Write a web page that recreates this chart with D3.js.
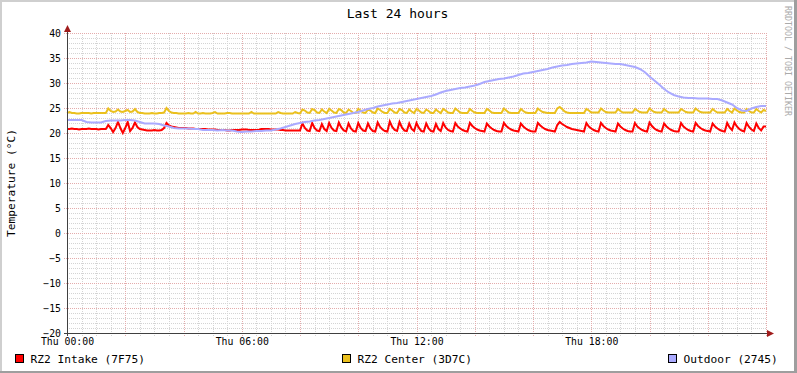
<!DOCTYPE html>
<html>
<head>
<meta charset="utf-8">
<script src="https://cdn.jsdelivr.net/npm/d3@7"></script>
<style>
  html, body { margin: 0; padding: 0; background: #fff; }
  svg { display: block; font-family: "DejaVu Sans Mono", monospace; }
</style>
</head>
<body>
<div id="chart"></div>
<script>
// data - intake + center log every 5 min (Thu 00:00 .. Fri 00:00), outdoor every 10 min
const intakeTemps = [
  20.8, 20.8, 20.9, 20.8, 20.8, 20.7, 20.8, 20.8, 20.8, 20.9, 20.8, 20.8, 20.8, 20.7, 20.8, 20.8, 20.8,
  21.6, 21.0, 20.2, 21.0, 22.2, 21.0, 20.0, 21.0, 22.2, 20.4, 21.0, 22.1, 21.2, 20.8,
  20.7, 20.6, 20.5, 20.5, 20.5, 20.6, 20.5, 20.5, 20.6,
  21.0, 22.0, 21.5, 21.3, 21.2, 21.1, 21.0, 21.0, 21.0, 21.0, 20.9, 20.9, 20.9, 20.8, 20.8, 20.8, 20.8, 20.8, 20.7, 20.7,
  20.7, 20.7, 20.6, 20.6, 20.6, 20.6, 20.5, 20.5, 20.6, 20.6, 20.6, 20.6, 20.7, 20.7, 20.7, 20.6, 20.6, 20.6, 20.6, 20.6,
  20.8, 20.8, 20.8, 20.8, 20.7, 20.7, 20.7, 20.7,
  20.6, 20.6, 20.5, 20.5, 20.5, 20.5, 20.5, 20.5, 20.5,
  21.9, 21.0, 20.5, 20.4,
  22.0, 21.0, 20.5, 20.4,
  21.8, 20.8, 20.4,
  22.0, 21.0, 20.5, 20.4,
  22.1, 21.1, 20.5, 20.3,
  21.9, 20.9, 20.4, 20.3,
  22.0, 21.0, 20.5, 20.4,
  21.9, 20.9, 20.4, 20.3,
  22.1, 21.2, 20.7, 20.4, 20.3,
  22.3, 21.2, 20.6, 20.4,
  22.2, 21.1, 20.5, 20.4,
  21.9, 20.8, 20.4,
  22.0, 21.0, 20.4, 20.3,
  21.9, 20.9, 20.4, 20.3,
  21.8, 20.8, 20.4,
  22.0, 21.1, 20.6, 20.4, 20.3,
  22.0, 21.3, 20.9, 20.6, 20.4, 20.3,
  22.0, 21.4, 21.0, 20.7, 20.5, 20.4, 20.3,
  21.9, 21.3, 20.9, 20.6, 20.4, 20.3, 20.3,
  22.0, 21.4, 21.0, 20.7, 20.5, 20.4, 20.3,
  21.9, 21.3, 20.9, 20.6, 20.4, 20.3, 20.3,
  22.0, 21.5, 21.1, 20.8, 20.6, 20.5, 20.4, 20.3,
  21.6, 22.2, 21.8, 21.5, 21.2, 21.0, 20.8, 20.7, 20.6, 20.5, 20.4, 20.3,
  22.0, 21.3, 20.9, 20.6, 20.4, 20.3,
  22.0, 21.4, 21.0, 20.7, 20.5, 20.4, 20.3,
  21.9, 21.3, 20.9, 20.6, 20.4, 20.3, 20.3,
  22.0, 21.3, 20.9, 20.6, 20.4, 20.3,
  22.1, 21.4, 20.9, 20.6, 20.4, 20.3,
  21.9, 21.3, 20.9, 20.6, 20.4, 20.3, 20.3,
  22.0, 21.3, 20.9, 20.6, 20.4, 20.3,
  22.0, 21.4, 21.0, 20.7, 20.5, 20.4, 20.3,
  21.9, 21.3, 20.9, 20.6, 20.4, 20.3,
  22.0, 21.1, 20.6,
  22.1, 21.3, 20.8, 20.5, 20.3,
  22.0, 21.2, 20.7, 20.4,
  21.9, 21.0, 20.5,
  21.3, 21.3
];

const centerTemps = [
  24.0, 24.2, 24.0, 24.0, 23.9, 23.9, 24.0, 24.0, 24.0, 24.0, 23.9, 24.0, 24.0, 24.0, 24.0, 24.0, 24.0,
  24.9, 24.4, 24.2, 24.3, 24.7, 24.3, 24.2, 24.4, 24.6, 24.2, 24.3, 24.8, 24.2, 24.0,
  24.0, 23.9, 23.9, 23.9, 24.0, 23.9, 23.9, 24.0, 24.0,
  24.1, 25.0, 24.4, 24.1, 24.0, 24.0, 23.9, 23.9, 23.9, 23.9, 24.0, 23.9, 23.9, 24.2, 23.9, 23.9, 24.0, 23.9, 23.9, 23.9,
  24.0, 24.2, 23.9, 23.9, 23.9, 23.9, 24.0, 24.0, 23.9, 23.9, 23.9, 23.9, 23.9, 23.9, 23.9, 23.9, 24.2, 23.9, 23.9, 23.9,
  23.9, 23.9, 23.9, 23.9, 23.9, 23.9, 23.9, 24.2, 24.0, 23.9, 23.9, 23.9, 23.9, 23.9, 24.2, 24.0, 23.9,
  24.7, 24.5, 24.1, 24.0,
  24.8, 24.6, 24.1, 24.0,
  24.7, 24.3, 24.0,
  24.8, 24.5, 24.1, 24.0,
  24.8, 24.6, 24.1, 24.0,
  24.7, 24.4, 24.0, 24.0,
  24.8, 24.5, 24.1, 24.0,
  24.7, 24.5, 24.1, 24.0,
  24.9, 24.6, 24.2, 24.0, 24.0,
  24.8, 24.5, 24.1, 24.0,
  24.8, 24.6, 24.1, 24.0,
  24.7, 24.3, 24.0,
  24.8, 24.5, 24.1, 24.0,
  24.7, 24.4, 24.0, 24.0,
  24.7, 24.3, 24.0,
  24.8, 24.5, 24.1, 24.0, 24.0,
  24.9, 24.5, 24.1, 24.0, 24.0, 24.0,
  24.8, 24.4, 24.1, 24.0, 24.0, 24.0, 24.0,
  24.8, 24.5, 24.1, 24.0, 24.0, 24.0, 24.0,
  24.9, 24.5, 24.1, 24.0, 24.0, 24.0, 24.0,
  24.8, 24.4, 24.1, 24.0, 24.0, 24.0, 24.0,
  24.9, 24.5, 24.2, 24.1, 24.0, 24.0, 24.0, 24.0,
  24.9, 25.2, 24.8, 24.3, 24.1, 24.0, 24.0, 24.0, 24.0, 24.0, 24.0, 24.0,
  24.8, 24.5, 24.1, 24.1, 24.1, 24.1,
  24.9, 24.5, 24.2, 24.1, 24.1, 24.1, 24.1,
  24.8, 24.4, 24.1, 24.1, 24.1, 24.1, 24.1,
  24.8, 24.5, 24.2, 24.1, 24.1, 24.1,
  24.9, 24.5, 24.2, 24.1, 24.1, 24.1,
  24.8, 24.4, 24.1, 24.1, 24.1, 24.1, 24.1,
  24.8, 24.5, 24.2, 24.1, 24.1, 24.1,
  24.9, 24.5, 24.2, 24.1, 24.1, 24.1, 24.1,
  24.8, 24.4, 24.1, 24.1, 24.1, 24.1,
  24.8, 24.4, 24.1,
  24.9, 24.5, 24.2, 24.1, 24.1,
  24.8, 24.4, 24.1, 24.1,
  24.8, 24.4, 24.1,
  24.6, 24.4
];

const outdoorTemps = [
  22.6, 22.6, 22.6, 22.6, 22.2, 22.1, 22.1, 22.1, 22.4, 22.5, 22.5, 22.5, 22.6, 22.6, 22.5, 22.2,
  21.9, 21.9, 21.9, 21.8, 21.5, 21.3, 21.0, 20.9, 20.9, 20.9, 20.8, 20.8, 20.6, 20.6, 20.6, 20.5,
  20.6, 20.5, 20.5, 20.3, 20.2, 20.3, 20.3, 20.4, 20.4, 20.5, 20.5, 20.7, 20.9, 21.2, 21.5, 21.8,
  22.0, 22.2, 22.3, 22.5, 22.6, 22.8, 23.0, 23.2, 23.4, 23.6, 23.8, 24.0, 24.2, 24.5, 24.8, 25.0,
  25.3, 25.5, 25.7, 25.9, 26.0, 26.2, 26.4, 26.6, 26.8, 27.0, 27.2, 27.4, 27.7, 28.1, 28.4, 28.6,
  28.8, 29.0, 29.1, 29.3, 29.5, 29.8, 30.2, 30.4, 30.6, 30.8, 30.9, 31.1, 31.3, 31.6, 31.9, 32.0,
  32.2, 32.4, 32.6, 32.8, 33.1, 33.3, 33.5, 33.6, 33.8, 33.9, 34.0, 34.1, 34.3, 34.2, 34.1, 34.0,
  33.9, 33.8, 33.8, 33.6, 33.4, 33.2, 32.8, 32.2, 31.3, 30.5, 29.7, 28.8, 28.1, 27.6, 27.3, 27.1,
  27.0, 27.0, 26.9, 26.9, 26.9, 26.8, 26.8, 26.5, 26.1, 25.7, 25.0, 24.5, 24.4, 24.9, 25.2, 25.4,
  25.4
];

const yTicks = [-20, -15, -10, -5, 0, 5, 10, 15, 20, 25, 30, 35, 40];
const xLabels = ["Thu 00:00", "Thu 06:00", "Thu 12:00", "Thu 18:00"];
const seriesNames = ["RZ2 Intake (7F75)", "RZ2 Center (3D7C)", "Outdoor (2745)"];

// config
const width = 797, height = 373;
const plot = {left: 67, top: 33, right: 766, bottom: 333};
const colors = {
    intake: "#ff0000",
    center: "#eac01e",
    outdoor: "#aaaaff",
    grid: "#d4d4d4",
    mgrid: "#e4acac",
    axis: "#404040",
    arrow: "#a01c1c"
};
const start = new Date(2024, 0, 4, 0, 0);   // a thursday
const end = new Date(2024, 0, 5, 0, 0);
const MIN = 60 * 1000;

const svg = d3.select("#chart")
              .append("svg")
              .attr("width", width)
              .attr("height", height);

// background + shading like rrdtool
svg.append("rect").attr("width", width).attr("height", height).attr("fill", "#ffffff");
svg.append("rect").attr("x", 0).attr("y", 0).attr("width", width).attr("height", 2).attr("fill", "#cfcfcf");
svg.append("rect").attr("x", 0).attr("y", 0).attr("width", 2).attr("height", height).attr("fill", "#cfcfcf");
svg.append("rect").attr("x", width - 3).attr("y", 0).attr("width", 3).attr("height", height).attr("fill", "#9e9e9e");
svg.append("rect").attr("x", 0).attr("y", height - 2).attr("width", width).attr("height", 2).attr("fill", "#9e9e9e");

const x = d3.scaleTime()
            .domain([start, end])
            .range([plot.left, plot.right]);

const y = d3.scaleLinear()
            .domain([-20, 40])
            .range([plot.bottom, plot.top]);

// grid lines (minor first, then major)
const minorY = d3.range(-20, 41, 1).filter(v => v % 5 !== 0);
const minorX = d3.timeMinute.every(30).range(start, end).filter(d => d.getMinutes() !== 0 || d.getHours() % 2 !== 0);
const majorX = d3.timeHour.every(2).range(start, new Date(end.getTime() + 1));

const grid = svg.append("g").attr("shape-rendering", "crispEdges").attr("stroke-dasharray", "1,1");

grid.selectAll(".hminor").data(minorY).enter().append("line")
    .attr("x1", plot.left).attr("x2", plot.right + 1)
    .attr("y1", d => y(d) + 0.5).attr("y2", d => y(d) + 0.5)
    .attr("stroke", colors.grid);

grid.selectAll(".vminor").data(minorX).enter().append("line")
    .attr("x1", d => Math.round(x(d)) + 0.5).attr("x2", d => Math.round(x(d)) + 0.5)
    .attr("y1", plot.top).attr("y2", plot.bottom + 3)
    .attr("stroke", colors.grid);

grid.selectAll(".hmajor").data(yTicks).enter().append("line")
    .attr("x1", plot.left - 3).attr("x2", plot.right + 1)
    .attr("y1", d => y(d) + 0.5).attr("y2", d => y(d) + 0.5)
    .attr("stroke", colors.mgrid);

grid.selectAll(".vmajor").data(majorX.filter(d => d > start)).enter().append("line")
    .attr("x1", d => Math.round(x(d)) + 0.5).attr("x2", d => Math.round(x(d)) + 0.5)
    .attr("y1", plot.top).attr("y2", plot.bottom + 3)
    .attr("stroke", colors.mgrid);

// series lines
const t5 = i => new Date(start.getTime() + i * 5 * MIN);
const t10 = i => new Date(start.getTime() + i * 10 * MIN);

function drawSeries(values, timeOf, color) {
    const line = d3.line()
                   .x((d, i) => x(timeOf(i)))
                   .y(d => y(d));
    svg.append("path")
       .datum(values)
       .attr("fill", "none")
       .attr("stroke", color)
       .attr("stroke-width", 2)
       .attr("d", line);
}

drawSeries(intakeTemps, t5, colors.intake);
drawSeries(centerTemps, t5, colors.center);
drawSeries(outdoorTemps, t10, colors.outdoor);

// axes
svg.append("line")
   .attr("x1", plot.left + 0.5).attr("x2", plot.left + 0.5)
   .attr("y1", plot.bottom + 3).attr("y2", plot.top - 3)
   .attr("stroke", colors.axis).attr("shape-rendering", "crispEdges");
svg.append("line")
   .attr("x1", plot.left - 3).attr("x2", plot.right + 2)
   .attr("y1", plot.bottom + 0.5).attr("y2", plot.bottom + 0.5)
   .attr("stroke", colors.axis).attr("shape-rendering", "crispEdges");

// arrows
svg.append("path")
   .attr("d", `M${plot.left - 3},${plot.top - 1} L${plot.left + 0.5},${plot.top - 8} L${plot.left + 4},${plot.top - 1} Z`)
   .attr("fill", colors.arrow);
svg.append("path")
   .attr("d", `M${plot.right + 1},${plot.bottom - 3} L${plot.right + 8},${plot.bottom + 0.5} L${plot.right + 1},${plot.bottom + 4} Z`)
   .attr("fill", colors.arrow);

// y labels
svg.append("g")
   .attr("transform", `translate(${plot.left},0)`)
   .call(d3.axisLeft(y).tickValues(yTicks).tickSize(0).tickPadding(6))
   .call(g => g.select(".domain").remove())
   .selectAll("text")
   .attr("font-family", "DejaVu Sans Mono")
   .attr("font-size", "9.8px")
   .attr("fill", "#000");

// x labels
const labelTimes = d3.timeHour.every(6).range(start, end);
svg.append("g")
   .attr("transform", `translate(0,${plot.bottom})`)
   .call(d3.axisBottom(x).tickValues(labelTimes).tickFormat((d, i) => xLabels[i]).tickSize(0))
   .call(g => g.select(".domain").remove())
   .selectAll("text")
   .attr("y", 11.5)
   .attr("dy", null)
   .attr("font-family", "DejaVu Sans Mono")
   .attr("font-size", "9.8px")
   .attr("fill", "#000");

// title
svg.append("text")
   .attr("x", 397.5).attr("y", 18)
   .attr("text-anchor", "middle")
   .style("font-size", "13px")
   .text("Last 24 hours");

// vertical unit label
svg.append("text")
   .attr("transform", `translate(15,${(plot.top + plot.bottom) / 2}) rotate(-90)`)
   .attr("text-anchor", "middle")
   .style("font-size", "11.2px")
   .text("Temperature (°C)");

// watermark
svg.append("text")
   .attr("transform", "translate(785,6) rotate(90)")
   .attr("fill", "#aaaaaa")
   .style("font-size", "8.3px")
   .text("RRDTOOL / TOBI OETIKER");

// legend
const legendX = [15, 342, 668];
const legendColors = [colors.intake, colors.center, colors.outdoor];
seriesNames.forEach((name, i) => {
    svg.append("rect")
       .attr("x", legendX[i] + 0.5).attr("y", 354.5)
       .attr("width", 8).attr("height", 8)
       .attr("fill", legendColors[i])
       .attr("stroke", "#000");
    svg.append("text")
       .attr("x", legendX[i] + 15.5).attr("y", 362.5)
       .style("font-size", "11.2px")
       .text(name);
});
</script>
</body>
</html>
